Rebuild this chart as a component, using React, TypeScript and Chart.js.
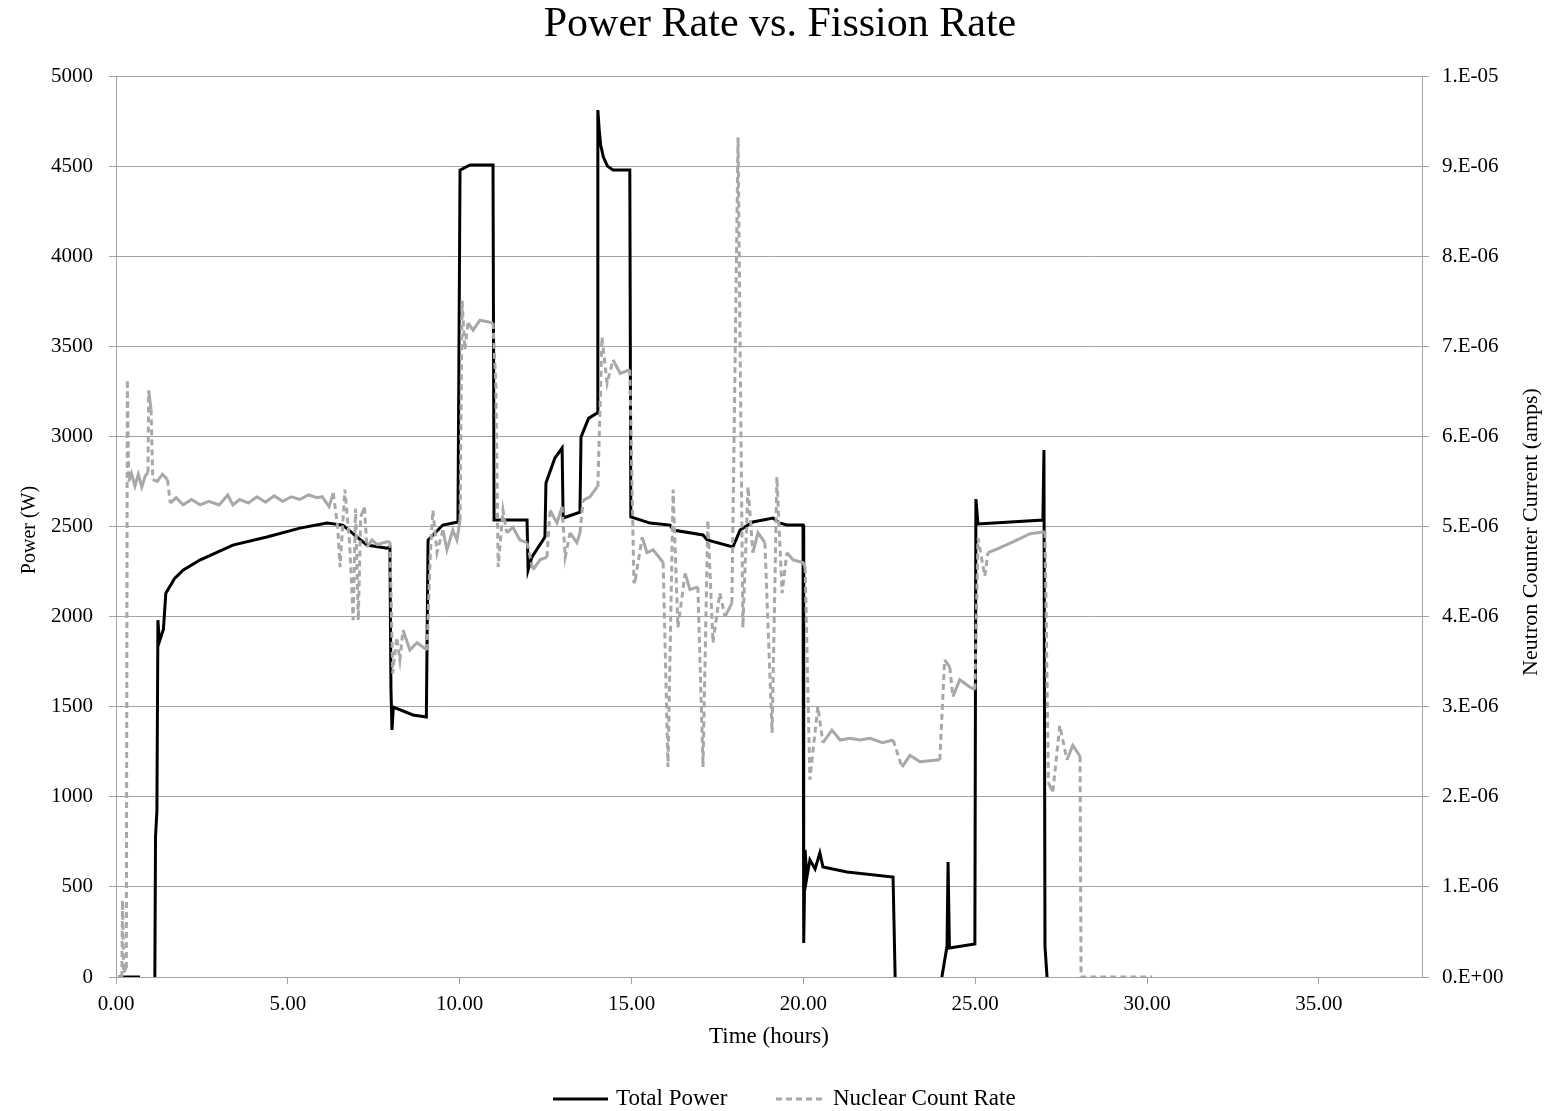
import { useEffect, useRef } from "react";
import { Chart, registerables } from "chart.js";
Chart.register(...registerables);

const titleText = "Power Rate vs. Fission Rate";
const xTitle = "Time (hours)";
const yTitle = "Power (W)";
const y2Title = "Neutron Counter Current (amps)";
const powerLabel = "Total Power";
const countLabel = "Nuclear Count Rate";

const powerTime = [
  0.06, 0.7, 0.9, 1.13, 1.15, 1.19, 1.22, 1.26, 1.38, 1.45, 1.7, 1.95, 2.44, 3.4, 4.39, 5.35, 6.14, 6.6, 7.01, 7.3,
  7.88, 7.97, 8.0, 8.03, 8.07, 8.64, 9.03, 9.08, 9.51, 9.95, 10.01, 10.3, 10.97, 11.0, 11.55, 11.96, 11.99, 12.1,
  12.48, 12.51, 12.77, 12.98, 13.01, 13.5, 13.53, 13.75, 14.0, 14.02, 14.06, 14.1, 14.18, 14.3, 14.46, 14.95, 14.98, 15.54,
  16.12, 16.21, 17.08, 17.2, 17.95, 18.16, 18.53, 19.12, 19.3, 19.52, 19.99, 20.01, 20.05, 20.1, 20.19, 20.34,
  20.48, 20.57, 21.27, 22.61, 22.67, 23.3, 24.03, 24.18, 24.21, 24.25, 24.99, 25.02, 25.08, 26.97, 27.0, 27.03, 27.09,
];
const powerWatts: (number | null)[] = [
  0, 0, null, 0, 780, 920, 1980, 1860, 1930, 2130, 2210, 2258, 2314, 2397, 2442, 2491, 2519, 2508, 2442, 2397,
  2380, 2386, 1600, 1371, 1498, 1454, 1443, 2425, 2508, 2525, 4478, 4506, 4506, 2536, 2536, 2536, 2258, 2330,
  2442, 2741, 2880, 2935, 2547, 2580, 2996, 3100, 3130, 4811, 4700, 4620, 4550, 4500, 4478, 4478, 2553, 2519,
  2508, 2480, 2453, 2425, 2386, 2480, 2525, 2547, 2520, 2508, 2508, 189, 705, 550, 650, 600,
  688, 610, 583, 555, 0, null, 0, 172, 638, 161, 183, 2652, 2514, 2536, 2924, 170, 0,
];

const countTime = [
  0.06, 0.17, 0.19, 0.22, 0.3, 0.33, 0.37, 0.45, 0.55, 0.65, 0.75, 0.85, 0.93, 0.95, 1.02, 1.07, 1.2, 1.35, 1.5, 1.58,
  1.75, 1.95, 2.2, 2.45, 2.7, 3.0, 3.25, 3.4, 3.6, 3.85, 4.1, 4.35, 4.6, 4.85, 5.1, 5.35, 5.6, 5.85, 6.0, 6.2,
  6.32, 6.45, 6.52, 6.66, 6.8, 6.9, 6.97, 7.05, 7.12, 7.23, 7.3, 7.45, 7.6, 7.88, 7.97, 8.05, 8.17, 8.26, 8.35, 8.55,
  8.76, 9.05, 9.14, 9.22, 9.34, 9.51, 9.63, 9.8, 9.92, 10.01, 10.07, 10.15, 10.24, 10.39, 10.59, 10.97, 11.05, 11.12,
  11.26, 11.37, 11.55, 11.75, 11.96, 12.13, 12.34, 12.54, 12.63, 12.83, 12.98, 13.07, 13.21, 13.41, 13.5, 13.59,
  13.79, 14.0, 14.02, 14.14, 14.29, 14.46, 14.67, 14.95, 15.07, 15.11, 15.31, 15.45, 15.63, 15.92, 16.06, 16.21,
  16.35, 16.56, 16.7, 16.93, 17.08, 17.22, 17.37, 17.57, 17.72, 17.92, 18.1, 18.24, 18.39, 18.53, 18.68, 18.88,
  19.09, 19.23, 19.38, 19.52, 19.7, 19.99, 20.05, 20.19, 20.42, 20.57, 20.83, 21.07, 21.36, 21.65, 21.94, 22.3,
  22.61, 22.87, 23.1, 23.39, 23.97, 24.11, 24.26, 24.35, 24.55, 24.84, 24.99, 25.08, 25.28, 25.37, 25.63, 26.1,
  26.6, 26.97, 27.03, 27.13, 27.26, 27.46, 27.67, 27.84, 28.05, 28.08, 30.15,
];
const countAmps = [
  0, 0, 0.85e-6, 0.05e-6, 0.1e-6, 6.63e-6, 5.5e-6, 5.59e-6, 5.45e-6, 5.58e-6, 5.44e-6, 5.56e-6, 5.6e-6, 6.51e-6, 6.3e-6, 5.52e-6, 5.5e-6, 5.58e-6, 5.52e-6, 5.26e-6,
  5.32e-6, 5.24e-6, 5.3e-6, 5.24e-6, 5.28e-6, 5.24e-6, 5.35e-6, 5.24e-6, 5.3e-6, 5.26e-6, 5.33e-6, 5.27e-6, 5.34e-6, 5.28e-6, 5.33e-6, 5.3e-6, 5.35e-6, 5.32e-6, 5.33e-6, 5.22e-6,
  5.37e-6, 5.0e-6, 4.55e-6, 5.41e-6, 4.8e-6, 3.96e-6, 5.2e-6, 3.96e-6, 5.11e-6, 5.21e-6, 4.77e-6, 4.85e-6, 4.8e-6, 4.83e-6, 4.83e-6, 3.37e-6, 3.77e-6, 3.52e-6, 3.85e-6, 3.63e-6,
  3.71e-6, 3.63e-6, 4.66e-6, 5.18e-6, 4.71e-6, 4.96e-6, 4.74e-6, 4.96e-6, 4.85e-6, 5.07e-6, 7.51e-6, 6.96e-6, 7.26e-6, 7.18e-6, 7.29e-6, 7.26e-6, 6.59e-6, 4.55e-6,
  5.18e-6, 4.93e-6, 4.99e-6, 4.85e-6, 4.82e-6, 4.52e-6, 4.63e-6, 4.66e-6, 5.18e-6, 5.04e-6, 5.22e-6, 4.66e-6, 4.93e-6, 4.82e-6, 4.93e-6, 5.29e-6,
  5.33e-6, 5.44e-6, 5.44e-6, 7.1e-6, 6.59e-6, 6.85e-6, 6.7e-6, 6.74e-6, 4.37e-6, 4.41e-6, 4.88e-6, 4.71e-6, 4.74e-6, 4.6e-6, 2.33e-6, 5.41e-6,
  3.88e-6, 4.48e-6, 4.3e-6, 4.33e-6, 2.33e-6, 5.07e-6, 3.71e-6, 4.26e-6, 4.0e-6, 4.15e-6, 9.32e-6, 3.88e-6, 5.44e-6, 4.71e-6, 4.93e-6, 4.82e-6,
  2.71e-6, 5.55e-6, 4.26e-6, 4.71e-6, 4.63e-6, 4.6e-6, 4.55e-6, 2.19e-6, 3.0e-6, 2.6e-6, 2.74e-6, 2.63e-6, 2.65e-6, 2.63e-6, 2.65e-6, 2.6e-6,
  2.63e-6, 2.33e-6, 2.46e-6, 2.39e-6, 2.41e-6, 3.52e-6, 3.44e-6, 3.11e-6, 3.3e-6, 3.22e-6, 3.19e-6, 4.87e-6, 4.45e-6, 4.71e-6, 4.75e-6, 4.83e-6,
  4.92e-6, 4.94e-6, 4.94e-6, 2.15e-6, 2.06e-6, 2.79e-6, 2.41e-6, 2.57e-6, 2.45e-6, 0, 0,
];

const xTicks = [0, 5, 10, 15, 20, 25, 30, 35];
const leftTicks = [0, 500, 1000, 1500, 2000, 2500, 3000, 3500, 4000, 4500, 5000];
const rightTicks = [0, 1e-6, 2e-6, 3e-6, 4e-6, 5e-6, 6e-6, 7e-6, 8e-6, 9e-6, 1e-5];
const rightTickLabels = ["0.E+00", "1.E-06", "2.E-06", "3.E-06", "4.E-06", "5.E-06", "6.E-06", "7.E-06", "8.E-06", "9.E-06", "1.E-05"];

const FONT = "'Liberation Serif', 'Times New Roman', serif";
const GRID = "#a3a3a3";
const GREY = "#a8a8a8";

export default function App() {
  const ref = useRef<HTMLCanvasElement | null>(null);
  useEffect(() => {
    const canvas = ref.current;
    if (!canvas) return;
    const textPlugin = {
      id: "texts",
      afterDraw(chart: any) {
        const ctx = chart.ctx as CanvasRenderingContext2D;
        const area = chart.chartArea;
        ctx.save();
        ctx.fillStyle = "#000";
        ctx.textBaseline = "middle";
        ctx.textAlign = "center";
        ctx.font = `42px ${FONT}`;
        ctx.fillText(titleText, 780, 25);
        ctx.font = `23px ${FONT}`;
        ctx.fillText(xTitle, (area.left + area.right) / 2, 1037);
        ctx.save();
        ctx.translate(30, 530);
        ctx.rotate(-Math.PI / 2);
        ctx.font = `20px ${FONT}`;
        ctx.fillText(yTitle, 0, 0);
        ctx.restore();
        ctx.save();
        ctx.translate(1531, 532);
        ctx.rotate(-Math.PI / 2);
        ctx.font = `22px ${FONT}`;
        ctx.fillText(y2Title, 0, 0);
        ctx.restore();
        // legend
        const ly = 1099;
        ctx.lineWidth = 3;
        ctx.strokeStyle = "#000";
        ctx.setLineDash([]);
        ctx.beginPath();
        ctx.moveTo(553, ly);
        ctx.lineTo(608, ly);
        ctx.stroke();
        ctx.strokeStyle = GREY;
        ctx.setLineDash([6, 4]);
        ctx.beginPath();
        ctx.moveTo(776, ly);
        ctx.lineTo(826, ly);
        ctx.stroke();
        ctx.setLineDash([]);
        ctx.textAlign = "left";
        ctx.font = `23px ${FONT}`;
        ctx.fillText(powerLabel, 616, ly);
        ctx.fillText(countLabel, 833, ly);
        ctx.restore();
      },
    };
    const tickFont = { family: FONT, size: 21 };
    const chart = new Chart(canvas, {
      type: "line",
      data: {
        datasets: [
          {
            label: powerLabel,
            data: powerTime.map((t, i) => ({ x: t, y: powerWatts[i] })) as any,
            yAxisID: "y",
            borderColor: "#000",
            borderWidth: 3,
            pointRadius: 0,
            tension: 0,
            spanGaps: false,
            order: 1,
          },
          {
            label: countLabel,
            data: countTime.map((t, i) => ({ x: t, y: countAmps[i] })) as any,
            yAxisID: "y2",
            borderColor: GREY,
            borderWidth: 3,
            pointRadius: 0,
            tension: 0,
            order: 0,
            segment: {
              borderDash: (c: any) =>
                Math.abs(c.p1.y - c.p0.y) > 20 || Math.abs(c.p1.x - c.p0.x) > 40 ? [6, 4] : [],
            },
          } as any,
        ],
      },
      options: {
        animation: false,
        responsive: false,
        devicePixelRatio: 1,
        layout: { padding: { top: 76, left: 0, right: 0, bottom: 0 } },
        plugins: { legend: { display: false }, title: { display: false }, tooltip: { enabled: false } },
        scales: {
          x: {
            type: "linear",
            min: 0,
            max: 38,
            afterBuildTicks: (s: any) => {
              s.ticks = xTicks.map((v) => ({ value: v }));
            },
            afterFit: (s: any) => {
              s.height = 134;
            },
            ticks: {
              font: tickFont,
              color: "#000",
              padding: 8,
              maxRotation: 0,
              callback: (v: any) => Number(v).toFixed(2),
            },
            grid: { drawOnChartArea: false, drawTicks: true, tickLength: 7, color: GRID },
            border: { color: GRID },
          },
          y: {
            position: "left",
            min: 0,
            max: 5000,
            afterBuildTicks: (s: any) => {
              s.ticks = leftTicks.map((v) => ({ value: v }));
            },
            afterFit: (s: any) => {
              s.width = 116;
            },
            ticks: { font: tickFont, color: "#000", padding: 16, callback: (v: any) => String(v) },
            grid: { color: GRID, tickLength: 7, drawTicks: true },
            border: { color: GRID },
          },
          y2: {
            position: "right",
            min: 0,
            max: 1e-5,
            afterBuildTicks: (s: any) => {
              s.ticks = rightTicks.map((v) => ({ value: v }));
            },
            afterFit: (s: any) => {
              s.width = 140;
            },
            ticks: {
              font: tickFont,
              color: "#000",
              padding: 13,
              callback: (_v: any, i: number) => rightTickLabels[i],
            },
            grid: { drawOnChartArea: false, tickLength: 7, drawTicks: true, color: GRID },
            border: { color: GRID },
          },
        },
      } as any,
      plugins: [textPlugin],
    });
    return () => chart.destroy();
  }, []);
  return (
    <div style={{ position: "absolute", left: 0, top: 0, width: 1562, height: 1111, background: "#fff" }}>
      <canvas ref={ref} width={1562} height={1111} style={{ display: "block" }} />
    </div>
  );
}
